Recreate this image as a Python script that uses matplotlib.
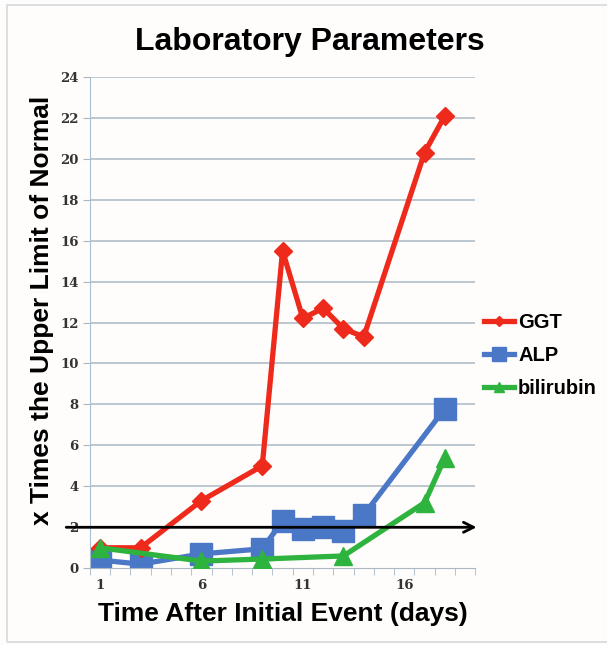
import matplotlib.pyplot as plt
import numpy as np

ggt_days = [1, 3, 6, 9, 10, 11, 12, 13, 14, 17, 18]
ggt = [1.0, 1.0, 3.3, 5.0, 15.5, 12.2, 12.7, 11.7, 11.3, 20.3, 22.1]

alp_days = [1, 3, 6, 9, 10, 11, 12, 13, 14, 18]
alp = [0.4, 0.2, 0.7, 0.95, 2.3, 1.9, 2.0, 1.8, 2.6, 7.8]

bili_days = [1, 6, 9, 13, 17, 18]
bili = [1.0, 0.35, 0.45, 0.6, 3.2, 5.4]

xtick_labels = [1, 6, 11, 16]
yticks = list(range(0, 25, 2))

plt.rcParams['font.family'] = ['Liberation Sans', 'DejaVu Sans']

fig = plt.figure(figsize=(6.07, 6.45), dpi=100, facecolor='#fffdfb')
ax = fig.add_axes([0.148, 0.119, 0.635, 0.762])
ax.set_facecolor('none')

# faint frame around the chart (right side runs off the picture)
fig.add_artist(plt.Rectangle((7 / 607, 3 / 645), 1.05, 1 - 8 / 645,
                             transform=fig.transFigure, fill=False,
                             edgecolor='#d5dade', linewidth=1.2))

for y in yticks[1:]:
    ax.axhline(y, color='#a9b8c4', linewidth=1.1, zorder=0)

ax.plot(ggt_days, ggt, color='#ee2a1c', linewidth=3.8, marker='D',
        markersize=9, label='GGT', zorder=3)
ax.plot(alp_days, alp, color='#4a78c6', linewidth=3.8, marker='s',
        markersize=16, label='ALP', zorder=2)
ax.plot(bili_days, bili, color='#2fb33f', linewidth=3.8, marker='^',
        markersize=13, label='bilirubin', zorder=4)

# reference line at 2x upper limit
ax.annotate('', xy=(19.7, 2), xytext=(-0.8, 2), xycoords='data',
            arrowprops=dict(arrowstyle='->', color='black', lw=2,
                            mutation_scale=18),
            annotation_clip=False, zorder=5)

ax.set_xlim(0.5, 19.5)
ax.set_ylim(0, 24)
ax.set_xticks(xtick_labels)
ax.set_xticks(np.arange(0.5, 19.6, 1), minor=True)
ax.tick_params(axis='x', which='major', length=0, pad=8)
ax.tick_params(axis='x', which='minor', length=5, color='#a9b8c4')
ax.set_yticks(yticks)
ax.tick_params(axis='y', length=5, color='#a9b8c4', pad=3)
for lab in ax.get_xticklabels() + ax.get_yticklabels():
    lab.set_fontfamily('DejaVu Serif')
    lab.set_fontweight('bold')
    lab.set_fontsize(9.5)
    lab.set_color('#333333')

ax.spines['top'].set_visible(False)
ax.spines['right'].set_visible(False)
ax.spines['left'].set_color('#a9c0d0')
ax.spines['bottom'].set_color('#a9b8c4')

fig.text(0.511, 0.935, 'Laboratory Parameters', fontsize=23,
         fontweight='bold', ha='center', va='center')
ax.set_xlabel('Time After Initial Event (days)', fontsize=19,
              fontweight='bold', labelpad=7)
fig.text(0.069, 0.519, 'x Times the Upper Limit of Normal', fontsize=19,
         fontweight='bold', rotation=90, ha='center', va='center')

ax.legend(loc='center left', bbox_to_anchor=(0.975, 0.433), frameon=False,
          prop={'weight': 'bold', 'size': 14.5}, markerscale=0.6,
          handlelength=1.5, handletextpad=0.2, labelspacing=0.68)

fig.savefig('out.png', dpi=100, facecolor=fig.get_facecolor())
